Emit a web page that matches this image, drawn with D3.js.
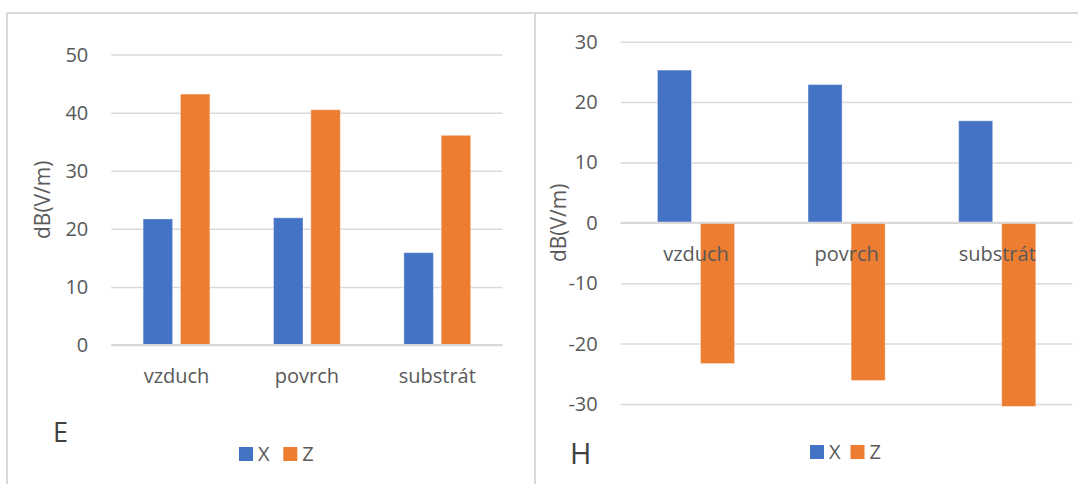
<!DOCTYPE html>
<html>
<head>
<meta charset="utf-8">
<script src="https://cdn.jsdelivr.net/npm/d3@7"></script>
<style>
  html, body { margin: 0; padding: 0; background: #fff; }
  svg { display: block; font-family: "Open Sans", sans-serif; }
</style>
</head>
<body>
<svg id="chart" width="1078" height="484"></svg>
<script>
// Field strength at three measuring positions, X and Z components
const categories = ["vzduch", "povrch", "substrát"];
const series = ["X", "Z"];
const colors = ["#4472c4", "#ed7d31"];

// Electric field E, dB(V/m)
const eX = [21.7, 21.9, 15.9];
const eZ = [43.2, 40.5, 36.1];
const eTicks = [0, 10, 20, 30, 40, 50];

// Magnetic field H, dB(V/m)
const hX = [25.3, 22.9, 16.9];
const hZ = [-23.3, -26.1, -30.4];
const hTicks = [-30, -20, -10, 0, 10, 20, 30];

const yTitle = "dB(V/m)";
const gridColor = "#d9d9d9";
const textColor = "#595959";

const svg = d3.select("#chart");

// Panel frame lines
svg.append("line").attr("x1", 7).attr("x2", 1078).attr("y1", 13).attr("y2", 13)
  .attr("stroke", gridColor).attr("stroke-width", 2);
svg.append("line").attr("x1", 7).attr("x2", 7).attr("y1", 13).attr("y2", 484)
  .attr("stroke", gridColor).attr("stroke-width", 2);
svg.append("line").attr("x1", 535).attr("x2", 535).attr("y1", 13).attr("y2", 484)
  .attr("stroke", gridColor).attr("stroke-width", 2);

function drawPanel(p) {
  const g = svg.append("g");
  const x0 = d3.scaleBand().domain(categories).range([p.left, p.right]).padding(0);
  const x1 = d3.scaleBand().domain(series).range([0, x0.bandwidth()])
    .paddingInner(0.21).paddingOuter(0.853);
  const y = d3.scaleLinear().domain(p.domain).range([p.bottom, p.top]);

  // gridlines + tick labels (plain hyphen for negatives)
  const yAxis = d3.axisLeft(y).tickValues(p.ticks).tickSize(-(p.right - p.left))
    .tickPadding(23).tickFormat(d => String(d));
  const ga = g.append("g").attr("transform", `translate(${p.left},0)`).call(yAxis);
  ga.select(".domain").remove();
  ga.selectAll(".tick line").attr("stroke", gridColor).attr("stroke-width", 1.5);
  ga.selectAll(".tick text").attr("fill", textColor).attr("font-size", 20)
    .attr("font-family", "Open Sans");

  // bars
  const rows = categories.map((c, i) => ({ c, vals: [p.xs[i], p.zs[i]] }));
  const cg = g.selectAll(".cat").data(rows).join("g")
    .attr("transform", d => `translate(${x0(d.c)},0)`);
  cg.selectAll("rect").data(d => d.vals.map((v, k) => ({ s: series[k], v, k }))).join("rect")
    .attr("x", d => x1(d.s))
    .attr("width", x1.bandwidth())
    .attr("y", d => Math.min(y(d.v), y(0)))
    .attr("height", d => Math.abs(y(d.v) - y(0)))
    .attr("fill", d => colors[d.k])
    .attr("stroke", "#fff").attr("stroke-opacity", 0.35).attr("stroke-width", 1);

  // horizontal category axis line at zero
  g.append("line").attr("x1", p.left).attr("x2", p.right)
    .attr("y1", y(0)).attr("y2", y(0))
    .attr("stroke", gridColor).attr("stroke-width", 2);

  // category labels
  const xAxis = d3.axisBottom(x0).tickSize(0).tickPadding(24);
  const gx = g.append("g").attr("transform", `translate(0,${y(0)})`).call(xAxis);
  gx.select(".domain").remove();
  gx.selectAll(".tick text").attr("fill", textColor).attr("font-size", 20)
    .attr("font-family", "Open Sans");

  // axis title
  g.append("text")
    .attr("transform", `translate(${p.titleX},${(p.top + p.bottom) / 2}) rotate(-90)`)
    .attr("text-anchor", "middle").attr("fill", textColor).attr("font-size", 21)
    .text(yTitle);

  // panel letter
  g.append("text").attr("x", p.letterX).attr("y", p.letterY)
    .attr("fill", "#404040").attr("font-size", p.letterSize).text(p.letter);

  // legend
  const lg = g.selectAll(".leg").data(series).join("g")
    .attr("transform", (d, i) => `translate(${p.legX + i * p.legStep},${p.legY})`);
  lg.append("rect").attr("width", 14).attr("height", 14).attr("fill", (d, i) => colors[i]);
  lg.append("text").attr("x", 19).attr("y", 14).attr("fill", textColor)
    .attr("font-size", 20).text(d => d);
}

drawPanel({
  left: 111.3, right: 502.5, top: 54.6, bottom: 345, domain: [0, 50], ticks: eTicks,
  xs: eX, zs: eZ, titleX: 50, letter: "E", letterX: 53, letterY: 442, letterSize: 27,
  legX: 239, legY: 447, legStep: 44.3
});
drawPanel({
  left: 620.7, right: 1072.5, top: 41.7, bottom: 404, domain: [-30, 30], ticks: hTicks,
  xs: hX, zs: hZ, titleX: 566, letter: "H", letterX: 570, letterY: 464, letterSize: 29,
  legX: 810, legY: 445, legStep: 40.5
});
</script>
</body>
</html>
